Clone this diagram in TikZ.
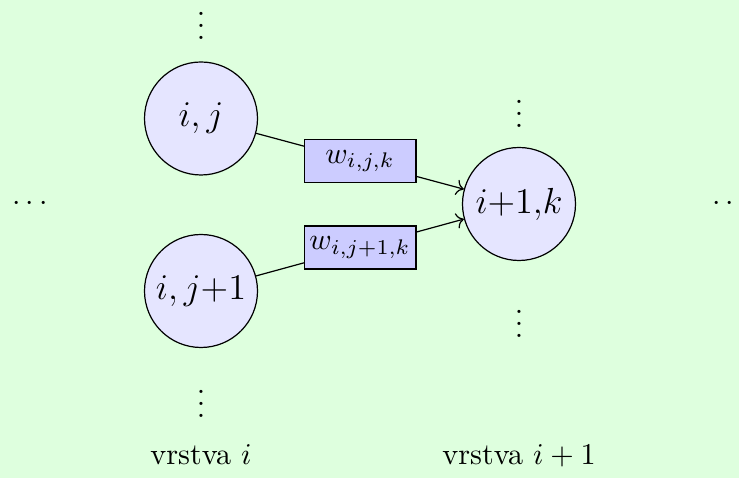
\documentclass[tikz,border=0pt]{standalone}
\usetikzlibrary{arrows.meta}

\begin{document}
\begin{tikzpicture}[
  x=0.331pt,y=-0.331pt,
  neuron/.style={draw,circle,fill=blue!10,minimum size=37.4pt,inner sep=0pt,font=\large},
  weight/.style={draw,fill=blue!20,minimum width=37pt,minimum height=14.2pt,inner sep=1pt},
  arr/.style={->}
]
% background and fixed frame
\fill[green!13] (0,0) rectangle (739,478);
\useasboundingbox (0,0) rectangle (739,478);

% layer i and layer i+1
\node[neuron] (nij)  at (201,118.5) {$i,j$};
\node[neuron] (nij1) at (201,291)   {$i,j{+}1$};
\node[neuron] (nk)   at (519,204)   {$i{+}1{,}k$};

% weighted connections
\draw[arr] (nij)  -- node[weight] (wjk)  {$w_{i,j,k}$} (nk);
\draw[arr] (nij1) -- node[weight] (wj1k) {$w_{i,j+1,k}$} (nk);

% continuation dots
\node (vtop)  at (201,17)  {$\vdots$};
\node (vbot)  at (201,395) {$\vdots$};
\node (vktop) at (519,105) {$\vdots$};
\node (vkbot) at (519,315) {$\vdots$};
\node (hleft)  at (30,204)  {$\cdots$};
\node (hright) at (730,204) {$\cdots$};

% layer labels
\node[anchor=base] (li)  at (201,465) {vrstva $i$};
\node[anchor=base] (li1) at (519,465) {vrstva $i+1$};
\end{tikzpicture}
\end{document}
